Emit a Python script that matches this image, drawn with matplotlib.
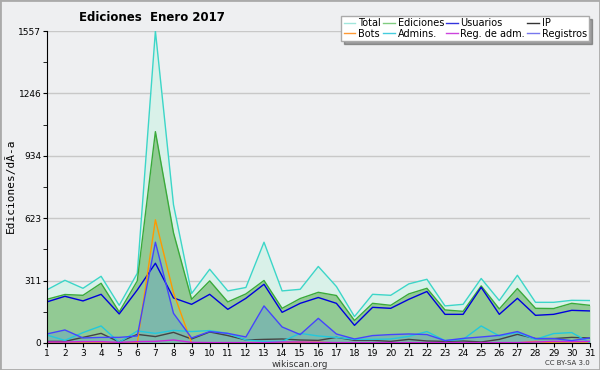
import numpy as np
import matplotlib
matplotlib.use('Agg')
import matplotlib.pyplot as plt
from matplotlib.lines import Line2D
from matplotlib.patches import Rectangle

days = list(range(1, 32))

total = [265, 313, 273, 333, 188, 348, 1557, 690, 247, 368, 260, 277, 503, 260, 268, 382,
         282, 132, 243, 238, 295, 318, 185, 193, 322, 212, 338, 203, 203, 213, 212]
ediciones = [218, 242, 238, 298, 155, 310, 1055, 550, 218, 310, 205, 245, 312, 173, 222, 253,
             237, 112, 198, 188, 245, 273, 165, 158, 285, 170, 272, 173, 172, 198, 188]
usuarios = [205, 233, 210, 243, 145, 265, 398, 225, 193, 243, 168, 223, 293, 153, 198, 227,
            198, 88, 178, 173, 218, 257, 143, 143, 278, 143, 223, 138, 143, 163, 160]
ip = [8, 8, 28, 48, 5, 43, 32, 53, 20, 55, 37, 15, 18, 20, 15, 13,
      28, 13, 13, 8, 18, 10, 8, 10, 5, 18, 43, 22, 22, 28, 25]
bots = [0, 0, 0, 0, 0, 0, 615, 250, 0, 0, 0, 0, 0, 0, 4, 4,
        0, 0, 0, 0, 0, 0, 0, 0, 0, 0, 0, 8, 0, 0, 0]
admins = [40, 13, 52, 85, 3, 60, 48, 63, 57, 62, 48, 15, 8, 8, 48, 35,
          28, 18, 18, 20, 33, 57, 12, 18, 85, 35, 52, 18, 47, 52, 2]
reg_adm = [5, 5, 7, 7, 3, 7, 8, 15, 3, 2, 2, 2, 2, 5, 5, 3,
           2, 2, 2, 2, 2, 2, 2, 2, 2, 2, 2, 5, 8, 7, 8]
registros = [45, 65, 25, 28, 28, 35, 503, 148, 25, 57, 48, 30, 185, 80, 42, 123,
             45, 20, 37, 42, 45, 42, 12, 23, 30, 38, 57, 22, 22, 12, 25]

yticks = [0, 311, 623, 934, 1246, 1557]

bg = '#eeeff1'
fig = plt.figure(figsize=(6, 3.7), dpi=100, facecolor=bg)
ax = fig.add_axes([0.078, 0.073, 0.905, 0.843], facecolor=bg)

# areas
ax.fill_between(days, total, color='#d9f1e9', lw=0)
ax.fill_between(days, ediciones, color='#92ca94', lw=0)
ax.fill_between(days, registros, color='#5f9fd0', alpha=0.4, lw=0)

# lines
ax.plot(days, total, color='#3cd6c8', lw=1)
ax.plot(days, ediciones, color='#3aaa3a', lw=1)
ax.plot(days, usuarios, color='#0000dd', lw=1)
ax.plot(days, ip, color='#444444', lw=1)
ax.plot(days, bots, color='#ff9900', lw=1)
ax.plot(days, admins, color='#22c8dd', lw=1)
ax.plot(days, reg_adm, color='#cc22dd', lw=1)
ax.plot(days, registros, color='#4444ff', lw=1)

ax.set_xlim(1, 31)
ax.set_ylim(0, 1557)
ax.set_xticks(days)
ax.set_xticklabels([str(d) for d in days], fontsize=6.5)
ax.set_yticks(yticks)
ax.set_yticklabels([str(v) for v in yticks], fontsize=6.5)
ax.set_yticks([(yticks[i] + yticks[i + 1]) / 2 for i in range(5)], minor=True)
ax.tick_params(axis='both', length=3, pad=1)
ax.tick_params(axis='y', which='minor', length=3)
ax.grid(axis='y', color='#c8c8c8', lw=1)
ax.set_axisbelow(True)
for s in ['top', 'right']:
    ax.spines[s].set_visible(False)

fig.text(0.253, 0.954, 'Ediciones  Enero 2017', fontsize=8.5, fontweight='bold', ha='center', va='center')
fig.text(0.017, 0.497, 'Ediciones/dÃ-a', rotation=90, va='center', ha='center',
         family='DejaVu Sans Mono', fontsize=8)
fig.text(0.5, 0.016, 'wikiscan.org', fontsize=6.5, ha='center', va='center', color='#333333')
fig.text(0.983, 0.018, 'CC BY-SA 3.0', fontsize=5, ha='right', va='center', color='#333333')

labels = ['Total', 'Bots', 'Ediciones', 'Admins.', 'Usuarios', 'Reg. de adm.', 'IP', 'Registros']
colors = ['#a0e6dc', '#ff9933', '#80cc80', '#44ccdd', '#3333dd', '#cc44dd', '#333333', '#7777ee']
handles = [Line2D([], [], color=c, lw=1) for c in colors]
leg = fig.legend(handles, labels, ncol=4, loc='upper right', bbox_to_anchor=(0.99, 0.97),
                 fontsize=7, handlelength=1.2, handletextpad=0.3, columnspacing=0.2,
                 labelspacing=0.05, borderpad=0.25, shadow=True, fancybox=False,
                 framealpha=1, edgecolor='#aaaaaa')

fig.patches.append(Rectangle((0, 0), 1, 1, transform=fig.transFigure, fill=False,
                             edgecolor='#aaaaaa', lw=2))

fig.savefig('out.png', dpi=100, facecolor=bg)
